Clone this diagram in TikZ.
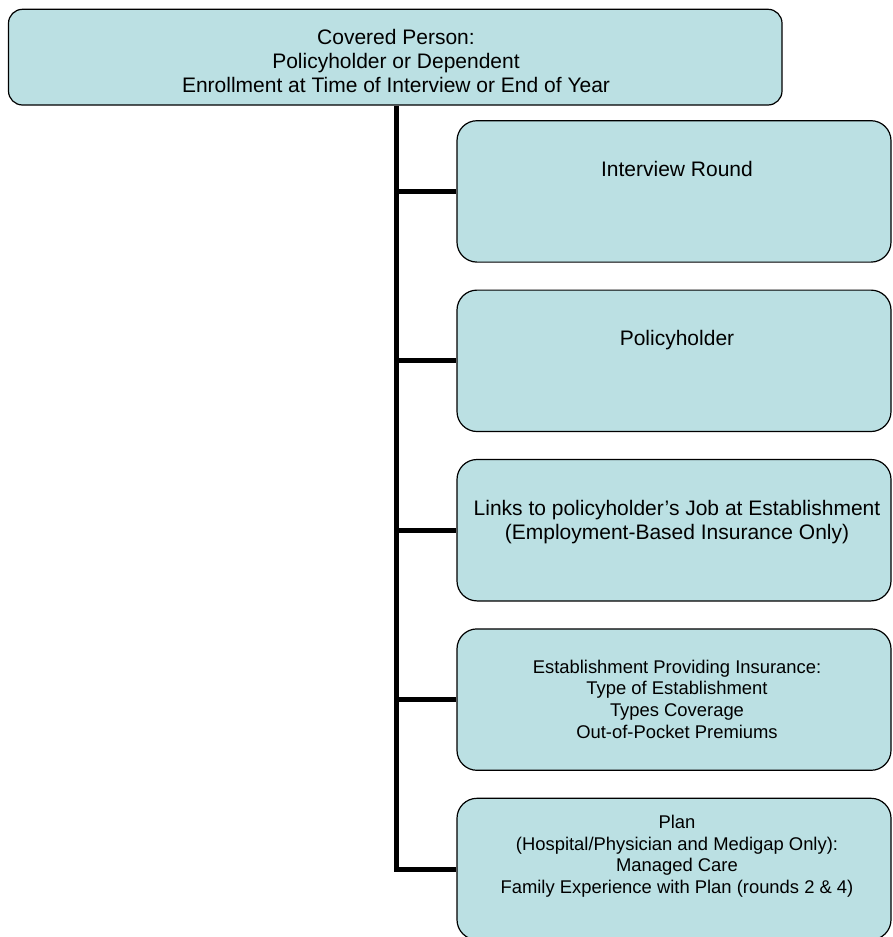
\documentclass[tikz,border=0pt]{standalone}
\usepackage{fontspec}
\setmainfont{Liberation Sans}
\definecolor{boxfill}{RGB}{187,224,227}
\begin{document}
\begin{tikzpicture}[x=1pt,y=-1pt,
  box/.style={draw=black, line width=1.2pt, fill=boxfill, rounded corners=20pt, inner sep=0pt,
              minimum width=434pt, minimum height=141.4pt},
  topbox/.style={draw=black, line width=1.2pt, fill=boxfill, rounded corners=14pt, inner sep=0pt,
              minimum width=773.5pt, minimum height=95.7pt},
  big/.style={align=center, font=\fontsize{21}{24}\selectfont, inner sep=0pt},
  small/.style={align=center, font=\fontsize{18.4}{21.8}\selectfont, inner sep=0pt},
  conn/.style={line width=5pt, draw=black}]
\useasboundingbox (0,0) rectangle (892,937);
\clip (0,0) rectangle (892,937);

\node[topbox] (top) at (395.25,57.15) {};
\node[big] (toptext) at (396,60.8) {Covered Person:\\Policyholder or Dependent\\Enrollment at Time of Interview or End of Year};

\node[box] (b1) at (674,191.4) {};
\node[box] (b2) at (674,360.8) {};
\node[box] (b3) at (674,530.2) {};
\node[box] (b4) at (674,699.6) {};
\node[box] (b5) at (674,869.0) {};

\node[big] (t1) at (677,169) {Interview Round};
\node[big] (t2) at (677,339.8) {Policyholder};
\node[big] (t3) at (677,522) {Links to policyholder’s Job at Establishment\\(Employment-Based Insurance Only)};
\node[small] (t4) at (677,699.25) {Establishment Providing Insurance:\\Type of Establishment\\Types Coverage\\Out-of-Pocket Premiums};
\node[small] (t5) at (677,856.2) {Plan\\(Hospital/Physician and Medigap Only):\\Managed Care\\Family Experience with Plan (rounds 2 \& 4)};

\coordinate (tr) at (396,0);
\draw[conn] (top.south -| tr) -- (b5.west -| tr) -- (b5.west);
\draw[conn] (b1.west -| tr) -- (b1.west);
\draw[conn] (b2.west -| tr) -- (b2.west);
\draw[conn] (b3.west -| tr) -- (b3.west);
\draw[conn] (b4.west -| tr) -- (b4.west);
\end{tikzpicture}
\end{document}
